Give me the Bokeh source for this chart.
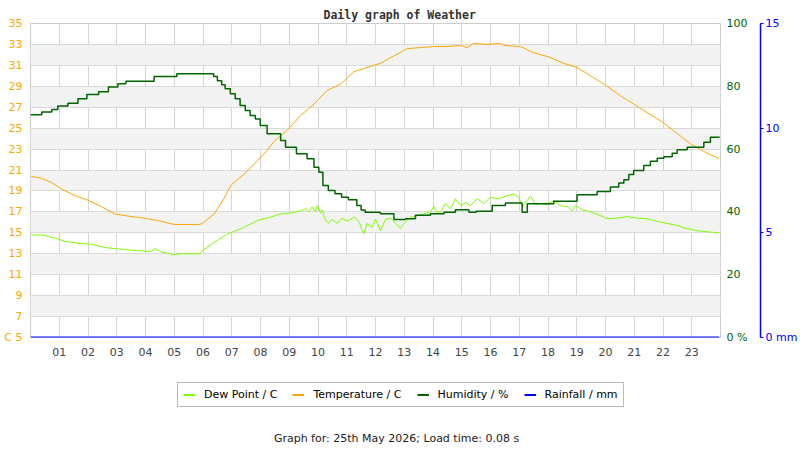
from bokeh.plotting import figure
from bokeh.layouts import column
from bokeh.models import Range1d, LinearAxis, FixedTicker, Legend, LegendItem, Title, Label
from bokeh.embed import file_html
from bokeh.resources import INLINE

# readings (hours since midnight)
temp_hours = [0.02, 0.39, 0.74, 1.08, 1.43, 2.01, 2.47, 2.93, 3.39, 3.97, 4.55, 5.0,
              5.87, 5.98, 6.39, 6.73, 6.99, 7.43, 7.9, 8.24, 8.46, 8.93, 9.39, 9.86,
              10.32, 10.78, 11.25, 11.71, 12.17, 12.64, 13.1, 13.57, 14.03, 14.49,
              14.96, 15.19, 15.42, 15.88, 16.35, 16.46, 17.04, 17.51, 18.03, 18.55,
              19.01, 19.48, 20.0, 20.52, 20.98, 21.44, 21.97, 22.49, 22.96, 23.54, 23.95]
temp_c = [20.4, 20.2, 19.8, 19.2, 18.7, 18.1, 17.5, 16.8, 16.6, 16.4, 16.1, 15.8,
          15.8, 15.9, 16.8, 18.3, 19.6, 20.6, 21.9, 22.9, 23.7, 24.8, 26.2, 27.3,
          28.6, 29.2, 30.4, 30.8, 31.2, 31.9, 32.6, 32.7, 32.8, 32.8,
          32.9, 32.7, 33.1, 33.0, 33.1, 32.9, 32.8, 32.2, 31.8, 31.2,
          30.8, 30.0, 29.1, 28.1, 27.3, 26.5, 25.6, 24.5, 23.5, 22.6, 22.1]

dew_hours = [0.02, 0.39, 0.85, 1.19, 1.66, 2.12, 2.58, 2.93, 3.27, 3.73, 4.2, 4.31,
             4.54, 5.0, 5.23, 5.87, 5.98, 6.39, 6.86, 7.33, 7.91, 8.35, 8.7, 9.04,
             9.39, 9.57, 9.68, 9.8, 9.91, 9.97, 10.09, 10.14, 10.26, 10.38, 10.49,
             10.67, 10.84, 11.01, 11.25, 11.42, 11.54, 11.59, 11.71, 11.88, 12.0,
             12.17, 12.35, 12.52, 12.7, 12.87, 12.99, 13.22, 13.45, 13.68, 13.91,
             14.03, 14.14, 14.26, 14.43, 14.61, 14.78, 14.96, 15.13, 15.3, 15.54,
             15.77, 16.0, 16.29, 16.58, 16.81, 16.99, 17.1, 17.28, 17.39, 17.57,
             17.74, 17.97, 18.2, 18.43, 18.67, 18.84, 18.96, 19.19, 19.48, 19.82,
             20.05, 20.4, 20.75, 21.1, 21.44, 21.8, 22.14, 22.49, 22.84, 23.19,
             23.54, 23.95]
dew_c = [14.8, 14.8, 14.5, 14.2, 14.0, 13.9, 13.6, 13.5, 13.4, 13.3, 13.2, 13.5,
         13.2, 12.9, 13.0, 13.0, 13.3, 14.1, 14.9, 15.4, 16.2, 16.5, 16.8, 16.9,
         17.1, 17.3, 17.0, 17.5, 17.0, 17.6, 16.9, 17.2, 16.2, 15.9, 16.3,
         15.9, 16.4, 16.1, 16.5, 16.1, 15.2, 14.9, 15.9, 15.5, 16.3,
         15.2, 16.3, 16.4, 15.9, 15.4, 15.9, 16.5, 16.65, 16.8, 17.0,
         17.5, 17.0, 17.0, 17.8, 17.3, 18.25, 17.6, 17.9, 17.6, 18.25,
         17.8, 18.4, 18.25, 18.55, 18.7, 18.4, 17.45, 18.1, 18.5, 17.7,
         17.8, 17.7, 18.1, 17.6, 17.5, 17.1, 17.6, 17.2, 17.0, 16.65,
         16.35, 16.4, 16.55, 16.4, 16.35, 16.1, 15.9, 15.7, 15.4, 15.2,
         15.1, 15.0]

hum_hours = [0.0, 0.39, 0.74, 0.95, 1.3, 1.65, 1.96, 2.37, 2.71, 3.04, 3.32, 4.3,
             5.09, 6.37, 6.5, 6.65, 6.77, 6.95, 7.12, 7.29, 7.47, 7.64, 7.82, 7.99,
             8.23, 8.7, 8.87, 9.25, 9.62, 9.86, 10.03, 10.17, 10.36, 10.59, 10.82,
             11.06, 11.35, 11.5, 11.64, 12.17, 12.64, 13.04, 13.39, 13.91, 14.38,
             14.78, 15.25, 15.5, 16.06, 16.52, 17.1, 17.28, 18.2, 19.01, 19.71,
             20.17, 20.46, 20.64, 20.81, 20.98, 21.33, 21.56, 21.8, 22.03, 22.32,
             22.49, 22.84, 23.42, 23.65, 23.95]
hum_pct = [70.9, 71.8, 72.6, 73.7, 74.6, 76.0, 77.4, 78.3, 79.8, 80.8, 81.6, 83.1,
           84.0, 83.1, 81.8, 80.5, 79.2, 77.6, 76.0, 73.9, 72.3, 70.7, 69.6, 67.5,
           64.9, 62.7, 60.6, 58.5, 56.9, 54.2, 52.6, 48.4, 46.8, 45.8, 44.7,
           43.9, 42.0, 40.6, 39.9, 39.4, 37.6, 37.8, 38.9, 39.4, 39.9,
           40.7, 39.9, 40.2, 42.0, 42.8, 39.9, 42.6, 43.4, 45.5, 46.5,
           47.9, 49.2, 50.2, 51.9, 53.2, 54.8, 56.1, 57.1, 57.6, 58.7,
           59.8, 60.6, 62.2, 63.8, 64.0]

rain_hours = [0.0, 23.95]
rain_mm = [0.0, 0.0]

temp_ticks = list(range(5, 36, 2))
hum_ticks = [0, 20, 40, 60, 80, 100]
rain_ticks = [0, 5, 10, 15]
hour_ticks = list(range(1, 24))
hour_labels = ["%02d" % h for h in hour_ticks]

ORANGE = "#ffa500"
DEW = "#7cfc00"
HUM = "#006400"
RAIN = "#0000ff"
FONT = "DejaVu Sans"

p = figure(frame_width=690, frame_height=314,
           x_range=Range1d(0, 24), y_range=Range1d(5, 35),
           output_backend="svg", toolbar_location=None,
           min_border_left=30, min_border_right=80, min_border_top=23,
           min_border_bottom=40)
p.extra_y_ranges = {"hum": Range1d(0, 100), "rain": Range1d(0, 15)}
p.background_fill_color = "white"
p.border_fill_color = "white"
p.outline_line_color = "#cccccc"

p.add_layout(Title(text="Daily graph of Weather", align="left", offset=293,
                   standoff=3, text_font="DejaVu Sans Mono", text_font_style="bold",
                   text_font_size="11.5px", text_color="#333333"), "above")

# x axis: hour labels only
xa = p.xaxis[0]
xa.ticker = FixedTicker(ticks=hour_ticks)
xa.major_label_overrides = dict(zip(hour_ticks, hour_labels))
xa.axis_line_color = None
xa.major_tick_line_color = None
xa.minor_tick_line_color = None
xa.major_tick_out = 0
xa.major_tick_in = 0
xa.major_label_standoff = 10
xa.major_label_text_font = FONT
xa.major_label_text_font_size = "11px"
xa.major_label_text_color = "#444444"

# left axis: temperature, unit shown beside the lowest tick
ya = p.yaxis[0]
ya.ticker = FixedTicker(ticks=temp_ticks)
ya.major_label_overrides = {5: "C 5"}
ya.axis_line_color = None
ya.major_tick_line_color = None
ya.minor_tick_line_color = None
ya.major_tick_out = 0
ya.major_tick_in = 0
ya.major_label_standoff = 8
ya.major_label_text_font = FONT
ya.major_label_text_font_size = "11px"
ya.major_label_text_color = ORANGE

p.xgrid.grid_line_color = "#d4d4d4"
p.ygrid.grid_line_color = "#dadada"
p.ygrid.band_fill_color = "#f3f3f3"
p.ygrid.band_fill_alpha = 1

hax = LinearAxis(y_range_name="hum", ticker=FixedTicker(ticks=hum_ticks),
                 major_label_overrides={0: "0 %"},
                 axis_line_color=None, major_tick_line_color=None,
                 minor_tick_line_color=None, major_tick_out=0, major_tick_in=0,
                 major_label_standoff=6, major_label_text_font=FONT,
                 major_label_text_font_size="11px", major_label_text_color=HUM,
                 axis_label=" ", axis_label_standoff=0,
                 axis_label_text_font_size="7px")
rax = LinearAxis(y_range_name="rain", ticker=FixedTicker(ticks=rain_ticks),
                 major_label_overrides={0: "0 mm"},
                 axis_line_color=RAIN, axis_line_width=1.5,
                 major_tick_line_color=RAIN, major_tick_out=3, major_tick_in=0,
                 minor_tick_line_color=None, major_label_standoff=2,
                 major_label_text_font=FONT, major_label_text_font_size="11px",
                 major_label_text_color=RAIN)
p.add_layout(hax, "right")
p.add_layout(rax, "right")

series = [("Dew Point / C", dew_hours, dew_c, DEW, 1, "default"),
          ("Temperature / C", temp_hours, temp_c, ORANGE, 1, "default"),
          ("Humidity / %", hum_hours, hum_pct, HUM, 1.5, "hum"),
          ("Rainfall / mm", rain_hours, rain_mm, RAIN, 2, "rain")]

for name, xs, ys, col, lw, rng in series:
    if rng == "hum":
        p.step(xs, ys, mode="after", color=col, line_width=lw, y_range_name=rng)
    else:
        p.line(xs, ys, color=col, line_width=lw, y_range_name=rng)

# strip underneath: legend + footer
f = figure(width=800, height=73, x_range=Range1d(-20, -19), y_range=Range1d(0, 1),
           output_backend="svg", toolbar_location=None,
           x_axis_type=None, y_axis_type=None, min_border=0)
f.grid.visible = False
f.outline_line_color = None
f.background_fill_color = "white"
f.border_fill_color = "white"

items = []
for name, xs, ys, col, lw, rng in series:
    r = f.line(xs, ys, color=col, line_width=2)
    items.append(LegendItem(label=name, renderers=[r]))

f.add_layout(Legend(items=items, location=(147, 43), orientation="horizontal",
                    margin=0, padding=5, spacing=15, label_standoff=9,
                    glyph_width=12, glyph_height=13, label_height=13,
                    label_text_font=FONT, label_text_font_size="11px",
                    label_text_color="black", border_line_color="#777777",
                    background_fill_color="white", background_fill_alpha=1))
f.add_layout(Label(x=366, y=12, x_units="screen", y_units="screen",
                   text="Graph for: 25th May 2026; Load time: 0.08 s",
                   text_align="center", text_baseline="middle", text_font=FONT,
                   text_font_size="11px", text_color="#222222"))

open("out.html", "w").write(file_html(column(p, f), INLINE))
